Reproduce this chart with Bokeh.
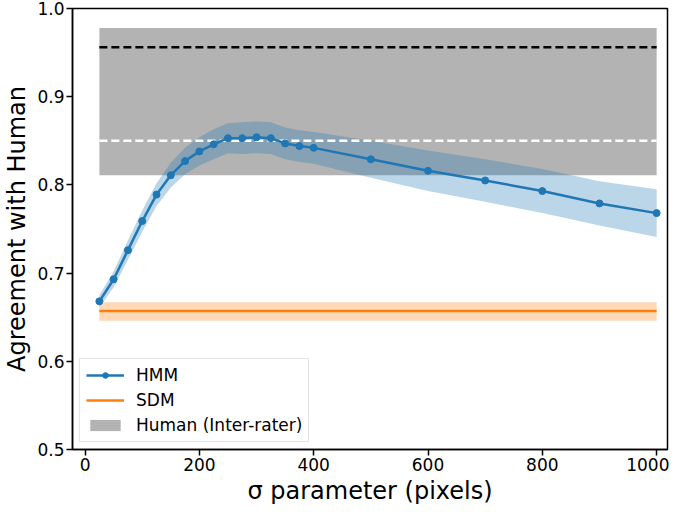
from bokeh.plotting import figure
from bokeh.models import Legend, LegendItem, Range1d, FixedTicker, PrintfTickFormatter
from bokeh.embed import file_html
from bokeh.resources import INLINE

# ---- data ----
sigma = [25, 50, 75, 100, 125, 150, 175, 200, 225, 250, 275, 300, 325, 350,
         375, 400, 500, 600, 700, 800, 900, 1000]
hmm_mean = [0.668, 0.693, 0.726, 0.759, 0.789, 0.811, 0.827, 0.838, 0.846, 0.853,
            0.853, 0.854, 0.853, 0.847, 0.844, 0.842, 0.829, 0.816, 0.805, 0.793,
            0.779, 0.768]
hmm_std = [0.007, 0.009, 0.011, 0.012, 0.013, 0.014, 0.015, 0.016, 0.017, 0.017,
           0.018, 0.018, 0.018, 0.018, 0.018, 0.018, 0.021, 0.023, 0.024, 0.025,
           0.025, 0.027]

sdm_x = [25, 1000]
sdm_mean = [0.657, 0.657]
sdm_lo = [0.646, 0.646]
sdm_hi = [0.667, 0.667]

human_x = [25, 1000]
human_lo = [0.811, 0.811]
human_hi = [0.978, 0.978]
human_top_line = [0.956, 0.956]
human_mid_line = [0.850, 0.850]

x_ticks = [0, 200, 400, 600, 800, 1000]
y_ticks = [0.5, 0.6, 0.7, 0.8, 0.9, 1.0]

hmm_lo = [m - s for m, s in zip(hmm_mean, hmm_std)]
hmm_hi = [m + s for m, s in zip(hmm_mean, hmm_std)]

BLUE = "#1f77b4"
ORANGE = "#ff7f0e"
FONT = "DejaVu Sans"

p = figure(width=669, height=507, output_backend="svg", toolbar_location=None,
           x_range=Range1d(-22, 1019), y_range=Range1d(0.5, 1.0),
           min_border_top=8, min_border_right=2, min_border_left=10, min_border_bottom=10)

p.grid.visible = False
p.outline_line_color = "black"
p.outline_line_width = 1.5
p.background_fill_color = "white"
p.border_fill_color = "white"

for ax in (p.xaxis[0], p.yaxis[0]):
    ax.axis_line_color = "black"
    ax.axis_line_width = 1.5
    ax.major_tick_line_color = "black"
    ax.major_tick_line_width = 1.5
    ax.major_tick_out = 6
    ax.major_tick_in = 0
    ax.minor_tick_line_color = None
    ax.major_label_text_font = FONT
    ax.major_label_text_font_size = "17px"
    ax.major_label_text_color = "black"
    ax.major_label_standoff = 2
    ax.axis_label_text_font = FONT
    ax.axis_label_text_font_size = "24px"
    ax.axis_label_text_font_style = "normal"
    ax.axis_label_text_color = "black"
    ax.axis_label_standoff = 3

p.xaxis.ticker = FixedTicker(ticks=x_ticks)
p.yaxis.ticker = FixedTicker(ticks=y_ticks)
p.yaxis.formatter = PrintfTickFormatter(format="%.1f")
p.xaxis.axis_label = "σ parameter (pixels)"
p.yaxis.axis_label = "Agreement with Human"

human_r = p.varea(x=human_x, y1=human_lo, y2=human_hi, fill_color="#808080", fill_alpha=0.6)
p.varea(x=sigma, y1=hmm_lo, y2=hmm_hi, fill_color=BLUE, fill_alpha=0.3)
p.varea(x=sdm_x, y1=sdm_lo, y2=sdm_hi, fill_color=ORANGE, fill_alpha=0.3)

p.line(human_x, human_top_line, line_color="black", line_width=2.5, line_dash="8 4")
p.line(human_x, human_mid_line, line_color="white", line_width=2.5, line_dash="8 4")

hmm_line = p.line(sigma, hmm_mean, line_color=BLUE, line_width=2.5)
hmm_pts = p.scatter(sigma, hmm_mean, marker="circle", size=7, fill_color=BLUE, line_color=BLUE)
sdm_line = p.line(sdm_x, sdm_mean, line_color=ORANGE, line_width=2.5)

legend = Legend(items=[
    LegendItem(label="HMM", renderers=[hmm_line, hmm_pts]),
    LegendItem(label="SDM", renderers=[sdm_line]),
    LegendItem(label="Human (Inter-rater)", renderers=[human_r]),
], location=(7, 7))
legend.label_text_font = FONT
legend.label_text_font_size = "17px"
legend.label_text_color = "black"
legend.glyph_width = 38
legend.glyph_height = 14
legend.label_height = 20
legend.label_standoff = 12
legend.spacing = 5
legend.padding = 6
legend.margin = 0
legend.border_line_color = "#cccccc"
legend.border_line_width = 1
legend.background_fill_alpha = 0.8
p.add_layout(legend)

open("out.html", "w").write(file_html(p, INLINE))
